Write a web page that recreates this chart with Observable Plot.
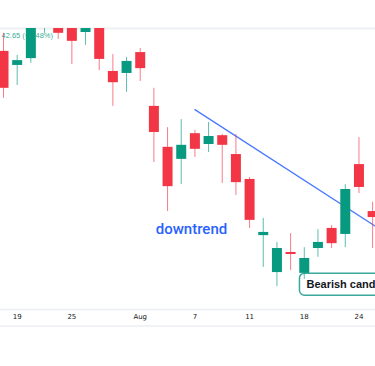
<!DOCTYPE html>
<html><head><meta charset="utf-8">
<script src="https://cdn.jsdelivr.net/npm/d3@7"></script>
<script src="https://cdn.jsdelivr.net/npm/@observablehq/plot@0.6"></script>
<style>html,body{margin:0;padding:0;background:#fff;overflow:hidden} svg{display:block}</style>
</head><body><div id="chart"></div>
<script>
// Trading days (NSE, Aug 15 holiday)
const dates = ["2023-07-18","2023-07-19","2023-07-20","2023-07-21","2023-07-24","2023-07-25","2023-07-26","2023-07-27","2023-07-28","2023-07-31",
  "2023-08-01","2023-08-02","2023-08-03","2023-08-04","2023-08-07","2023-08-08","2023-08-09","2023-08-10","2023-08-11","2023-08-14",
  "2023-08-16","2023-08-17","2023-08-18","2023-08-21","2023-08-22","2023-08-23","2023-08-24","2023-08-25"];
const open  = [44.43,44.08,44.25,45.10,45.32,45.20,44.90,45.10,43.93,43.88,44.40,43.06,42.04,41.74,42.38,42.11,42.33,41.86,41.24,39.84,38.92,39.42,38.90,39.52,40.02,39.87,41.61,40.44];
const high  = [44.88,44.33,45.45,45.57,45.45,45.32,45.32,45.20,44.35,44.28,44.50,43.51,42.53,42.73,42.46,42.66,42.36,42.36,41.29,40.27,39.67,39.89,39.54,39.99,40.09,41.11,42.28,40.67];
const low   = [43.26,43.58,44.13,44.88,44.73,44.10,44.58,43.95,43.06,43.41,43.68,41.66,40.44,41.11,41.79,41.91,41.14,40.84,40.02,39.05,38.57,38.97,38.75,39.30,39.52,39.54,40.89,39.52];
const close = [43.51,44.20,45.32,45.45,44.88,44.68,45.20,44.23,43.65,44.18,44.00,42.41,41.06,42.09,41.99,42.31,42.09,41.16,40.22,39.92,39.52,39.37,39.27,39.67,39.64,40.99,41.04,40.29];

const tickDates  = ["2023-07-19","2023-07-25","2023-08-01","2023-08-07","2023-08-11","2023-08-18","2023-08-24"];
const tickLabels = ["19","25","Aug","7","11","18","24"];

// Trend line (index positions along the trading-day axis, price)
const trendIndex = [14, 27.5];
const trendPrice = [42.98, 40.01];

const legendText = "42.65 (+4.48%)";
const trendLabel = "downtrend";
const trendLabelIndex = [13.75];
const trendLabelPrice = [39.99];
const noteLabel = "Bearish candlestick";
const noteIndex = [22.16];
const notePrice = [38.62];

const RED = "#f23645", GREEN = "#089981", BLUE = "#2962ff";

const candles = dates.map((d, i) => ({i, date: d, open: open[i], high: high[i], low: low[i], close: close[i], up: close[i] >= open[i]}));
const tickIdx = tickDates.map(d => dates.indexOf(d));
const labelOf = new Map(tickIdx.map((t, k) => [t, tickLabels[k]]));
const trend = trendIndex.map((x, k) => ({x, y: trendPrice[k]}));

const chart = Plot.plot({
  width: 375, height: 366,
  marginTop: 28, marginBottom: 57, marginLeft: 0, marginRight: 0,
  style: {background: "#fff", color: "#131722", fontFamily: "DejaVu Sans"},
  x: {type: "linear", domain: [-0.22, 27.21], axis: null},
  y: {domain: [38, 45], axis: null},
  marks: [
    Plot.frame({anchor: "top", stroke: "#eef0f3", strokeWidth: 2}),
    Plot.frame({anchor: "bottom", stroke: "#eceef2", strokeWidth: 1.5}),
    Plot.text([legendText], {text: d => d, frameAnchor: "top-left", dx: 1, dy: 4, fontSize: 7.5, fontFamily: "Liberation Sans", fill: GREEN, fillOpacity: 0.85, textAnchor: "start"}),
    Plot.text([noteLabel], {x: noteIndex, y: notePrice, text: d => d, textAnchor: "start", lineAnchor: "middle", fontSize: 11, fontWeight: "bold", fontFamily: "Liberation Sans", fill: "#131722"}),
    Plot.line(trend, {x: "x", y: "y", stroke: BLUE, strokeWidth: 1.3, strokeOpacity: 0.85, clip: true}),
    Plot.text([trendLabel], {x: trendLabelIndex, y: trendLabelPrice, text: d => d, fontSize: 15, fontWeight: 500, fontFamily: "Roboto", fill: BLUE}),
    Plot.ruleX(candles, {x: "i", y1: "low", y2: "high", stroke: d => d.up ? GREEN : RED, strokeOpacity: 0.65, strokeWidth: 1, clip: true}),
    Plot.ruleX(candles, {x: "i", y1: "open", y2: "close", stroke: d => d.up ? GREEN : RED, strokeWidth: 10, clip: true}),
    Plot.axisX({ticks: tickIdx, tickFormat: d => labelOf.get(d), tickSize: 0, tickPadding: 5, fontSize: 7, anchor: "bottom"})
  ]
});
document.getElementById("chart").appendChild(chart);

// separator below the time scale
const svg = d3.select(chart);
svg.append("line").attr("x1", 0).attr("x2", 375).attr("y1", 326).attr("y2", 326)
  .attr("stroke", "#eceef2").attr("stroke-width", 1.5);

// rounded box behind the note text
svg.selectAll("text").filter(function() { return this.textContent === noteLabel; }).each(function() {
  const b = this.getBBox();
  const cy = b.y + b.height / 2;
  const rect = document.createElementNS("http://www.w3.org/2000/svg", "rect");
  const tr = this.getAttribute("transform");
  if (tr) rect.setAttribute("transform", tr);
  rect.setAttribute("x", b.x - 7);
  rect.setAttribute("y", cy - 11);
  rect.setAttribute("width", b.width + 40);
  rect.setAttribute("height", 22);
  rect.setAttribute("rx", 5);
  rect.setAttribute("fill", "#fff");
  rect.setAttribute("stroke", "#3aa99c");
  rect.setAttribute("stroke-width", 1.5);
  this.parentNode.insertBefore(rect, this);
});
</script>
</body></html>
